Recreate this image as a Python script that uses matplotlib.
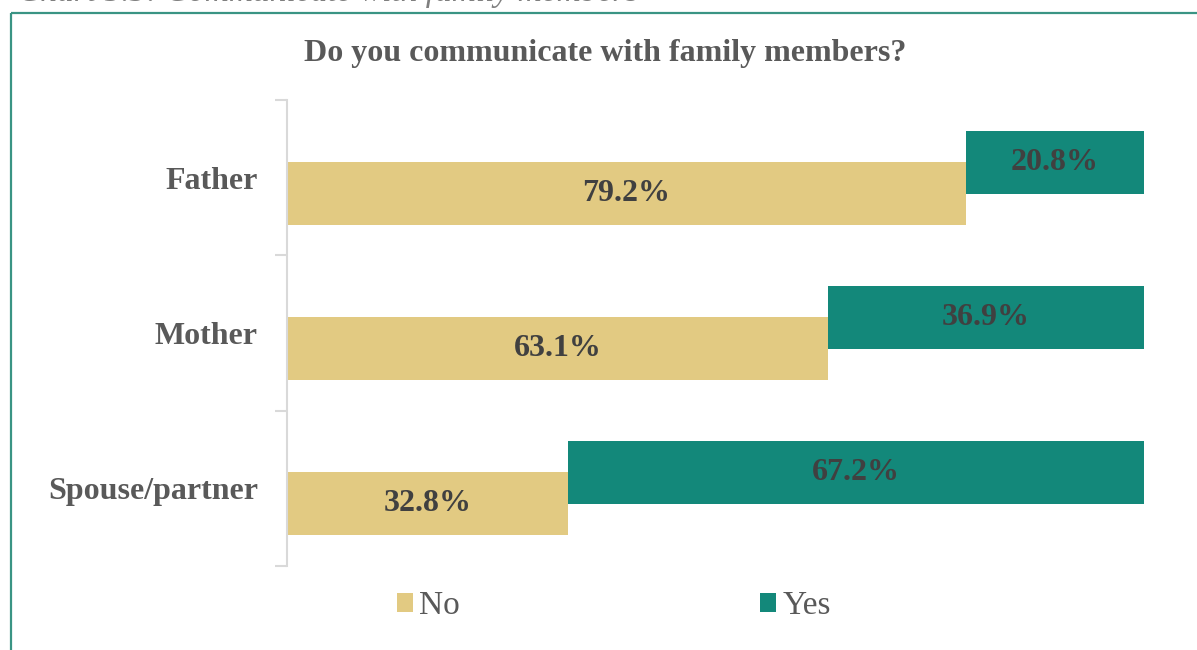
import matplotlib
matplotlib.use("Agg")
import matplotlib.pyplot as plt
from matplotlib.patches import Rectangle
from matplotlib.ticker import FixedLocator, NullFormatter

categories = ["Father", "Mother", "Spouse/partner"]
no_values = [79.2, 63.1, 32.8]
yes_values = [20.8, 36.9, 67.2]
series_names = ["No", "Yes"]

no_color = "#E2CA82"
yes_color = "#13887A"
text_grey = "#595959"
value_grey = "#404040"
serif = ["Liberation Serif", "DejaVu Serif"]

W, H = 1197, 650
fig = plt.figure(figsize=(W / 100, H / 100), dpi=100)

# outer teal frame (open to the right and bottom)
fig.patches.append(Rectangle((11 / W, 1 - 13 / H), 1.2, -1.2,
                             transform=fig.transFigure, fill=False,
                             edgecolor="#3A9484", linewidth=1.6))

# caption line above the frame, running off the top edge
fig.text(18 / W, 1 - 1 / H, "Chart 5.3: Communicate with family members",
         fontsize=24, fontstyle="italic", family=serif, color="#7F7F7F",
         ha="left", va="baseline")

left, right = 287 / W, 1144 / W
top, bottom = 1 - 100 / H, 1 - 566 / H
ax = fig.add_axes([left, bottom, right - left, top - bottom])

pos = list(range(len(categories)))
bar_h = 0.405
shift = 0.1
no_y = [p + shift for p in pos]
yes_y = [p - shift for p in pos]

ax.barh(no_y, no_values, height=bar_h, color=no_color, label=series_names[0])
ax.barh(yes_y, yes_values, left=no_values, height=bar_h, color=yes_color,
        label=series_names[1])

for y, v in zip(no_y, no_values):
    ax.text(v / 2, y, f"{v:.1f}%", ha="center", va="center", fontsize=23,
            fontweight="bold", family=serif, color=value_grey)
for y, s, v in zip(yes_y, no_values, yes_values):
    ax.text(s + v / 2, y, f"{v:.1f}%", ha="center", va="center", fontsize=23,
            fontweight="bold", family=serif, color=value_grey)

ax.set_xlim(0, 100)
ax.set_ylim(len(categories) - 0.5, -0.5)

for side in ("top", "right", "bottom"):
    ax.spines[side].set_visible(False)
ax.spines["left"].set_color("#D9D9D9")
ax.spines["left"].set_linewidth(1.5)
ax.set_xticks([])

ax.set_yticks(pos)
ax.set_yticklabels(categories, fontsize=23, fontweight="bold", family=serif,
                   color=text_grey)
ax.tick_params(axis="y", which="major", length=0, pad=21)
ax.yaxis.set_minor_locator(FixedLocator([p - 0.5 for p in pos] + [pos[-1] + 0.5]))
ax.yaxis.set_minor_formatter(NullFormatter())
ax.tick_params(axis="y", which="minor", length=9, width=1.5, color="#D9D9D9")

fig.text(605 / W, 1 - 53 / H, "Do you communicate with family members?",
         ha="center", va="center", fontsize=23, fontweight="bold",
         family=serif, color=text_grey)

leg = fig.legend(loc="center", bbox_to_anchor=(614 / W, 1 - 606 / H),
                 ncol=2, frameon=False, columnspacing=9.0, handlelength=0.48,
                 handleheight=0.48, handletextpad=0.2,
                 prop={"family": serif, "size": 24})
for t in leg.get_texts():
    t.set_color(text_grey)

fig.savefig("out.png", dpi=100, facecolor="white")
